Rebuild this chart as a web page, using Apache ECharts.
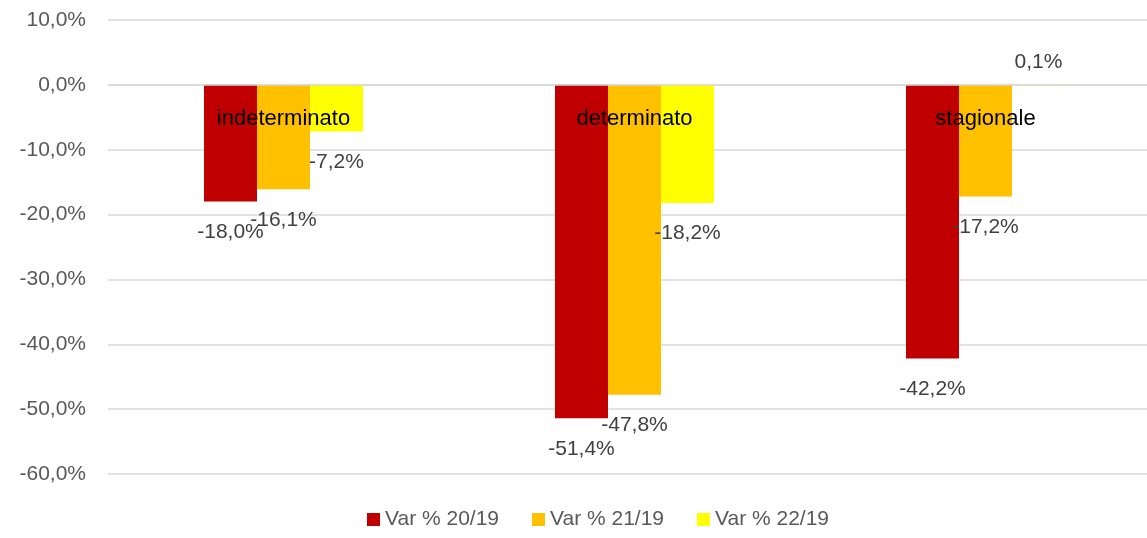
<!DOCTYPE html>
<html>
<head>
<meta charset="utf-8">
<script src="https://cdn.jsdelivr.net/npm/echarts@6/dist/echarts.min.js"></script>
<style>
  html, body { margin: 0; padding: 0; background: #fff; }
  #chart { width: 1147px; height: 538px; }
</style>
</head>
<body>
<div id="chart"></div>
<script>
const categories = ['indeterminato', 'determinato', 'stagionale']
const seriesNames = ['Var % 20/19', 'Var % 21/19', 'Var % 22/19']
const var2019 = [-18.0, -51.4, -42.2]
const var2119 = [-16.1, -47.8, -17.2]
const var2219 = [-7.2, -18.2, 0.1]
const colors = ['#C00000', '#FFC000', '#FFFF00']

const font = 'Liberation Sans'

function pct(v) {
  return v.toFixed(1).replace('.', ',') + '%'
}

function makeSeries(name, values, color) {
  return {
    name,
    type: 'bar',
    barGap: '0%',
    barCategoryGap: '54.7%',
    itemStyle: { color },
    data: values.map(v => ({
      value: v,
      label: { position: v >= 0 ? 'top' : 'bottom', distance: v >= 0 ? 12 : 20 }
    })),
    label: {
      show: true,
      color: '#404040',
      fontFamily: font,
      fontSize: 21,
      formatter: p => pct(p.value)
    }
  }
}

// zero line sits 389px above the bottom of the plot (454px tall, -60..10)
const chart = echarts.init(document.getElementById('chart'), null, { renderer: 'canvas' })
chart.setOption({
  backgroundColor: '#ffffff',
  animation: false,
  color: colors,
  grid: { left: 108, width: 1053, top: 20, bottom: 64, outerBoundsMode: 'none', containLabel: false },
  legend: {
    bottom: 3,
    left: 362,
    icon: 'rect',
    itemWidth: 13,
    itemHeight: 13,
    itemGap: 33,
    itemStyle: { borderWidth: 0 },
    textStyle: { color: '#595959', fontFamily: font, fontSize: 21 },
    data: seriesNames
  },
  xAxis: {
    type: 'category',
    data: categories,
    z: 10,
    offset: -389,
    axisLine: { show: true, onZero: false, lineStyle: { color: '#d9d9d9', width: 1.5 } },
    axisTick: { show: false },
    axisLabel: { color: '#000', fontFamily: font, fontSize: 22, margin: 23 }
  },
  yAxis: {
    type: 'value',
    min: -60,
    max: 10,
    interval: 10,
    axisLine: { show: false },
    axisTick: { show: false },
    splitLine: { lineStyle: { color: '#d9d9d9', width: 1.5 } },
    axisLabel: {
      color: '#595959',
      fontFamily: font,
      fontSize: 21,
      margin: 22,
      formatter: v => pct(v)
    }
  },
  series: [
    makeSeries(seriesNames[0], var2019, colors[0]),
    makeSeries(seriesNames[1], var2119, colors[1]),
    makeSeries(seriesNames[2], var2219, colors[2])
  ]
})
</script>
</body>
</html>
